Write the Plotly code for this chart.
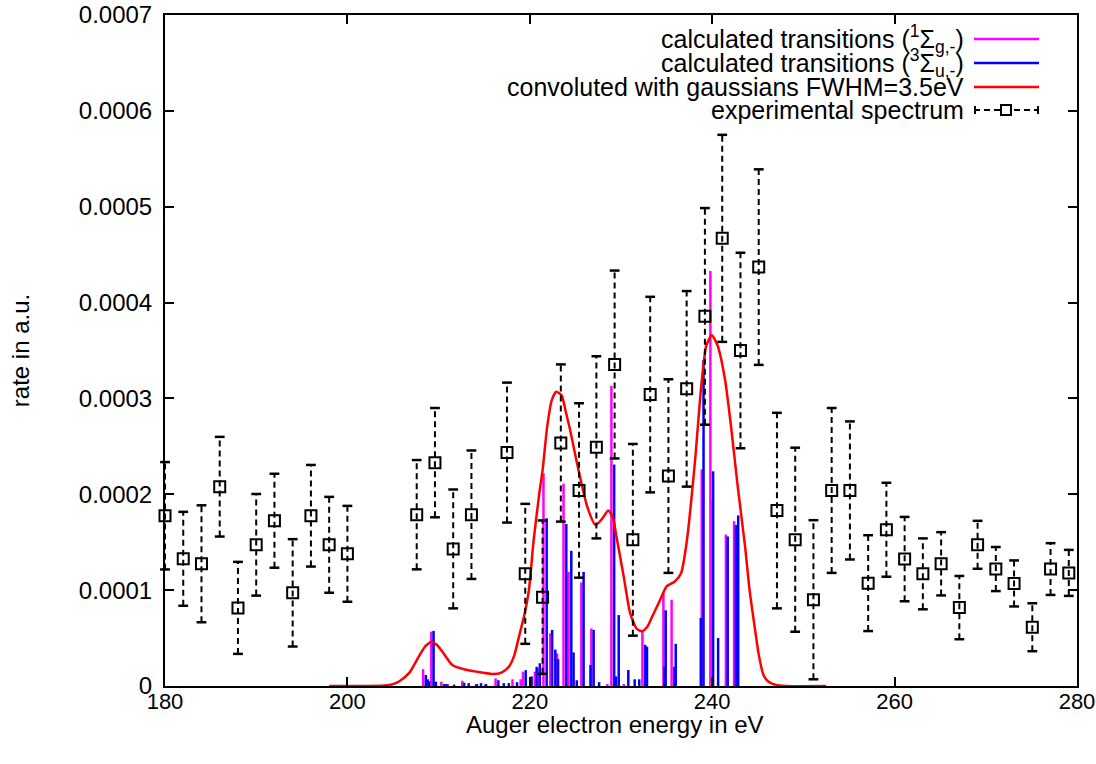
import plotly.graph_objects as go

# ---------------- data ----------------
# calculated transitions, 1Sigma_g (magenta): energy (eV), rate (1e-4 a.u.)
sg_energy = [208.3, 209.2, 210.3, 211.0, 212.6, 214.1, 215.1, 216.25, 218.1, 219.0, 219.25,
             220.55, 221.0, 221.5, 222.25, 223.0, 223.7, 224.25, 225.65, 226.75, 228.5,
             228.95, 230.3, 232.35, 234.65, 235.55, 238.85, 239.8, 240.05, 241.5, 242.4]
sg_rate = [0.175, 0.567, 0.045, 0.02, 0.055, 0.02, 0.015, 0.08, 0.07, 0.07, 0.15,
           0.15, 0.185, 2.22, 0.55, 0.34, 2.11, 1.19, 1.08, 0.60, 0.02,
           3.13, 0.02, 0.585, 0.97, 0.90, 2.26, 4.33, 1.94, 1.58, 1.72]

# calculated transitions, 3Sigma_u (blue)
su_energy = [208.6, 208.8, 208.95, 209.45, 209.7, 210.6, 210.85, 211.7, 212.8, 213.3,
             214.2, 214.65, 215.2, 216.55, 217.15, 217.7, 218.6, 219.55, 220.2, 220.75,
             221.1, 221.85, 222.45, 222.8, 223.1, 224.0, 224.55, 224.8, 225.15, 225.9,
             226.65, 227.0, 227.6, 229.25, 229.45, 229.75, 230.8, 231.5, 232.0, 232.65,
             232.85, 234.75, 234.9, 235.85, 236.0, 238.75, 239.05, 240.1, 240.65, 241.7,
             242.6, 242.85]
su_rate = [0.115, 0.07, 0.05, 0.575, 0.045, 0.02, 0.02, 0.015, 0.035, 0.03,
           0.02, 0.03, 0.02, 0.06, 0.03, 0.03, 0.04, 0.165, 0.10, 0.20,
           0.237, 1.75, 0.585, 0.38, 0.28, 1.69, 1.41, 0.35, 0.06, 1.19,
           0.22, 0.585, 0.04, 2.31, 0.10, 0.74, 0.167, 0.07, 0.07, 0.43,
           0.41, 0.20, 0.79, 0.20, 0.44, 0.71, 3.40, 2.24, 0.50, 1.56,
           1.68, 1.78]

# convoluted spectrum (red)
conv_energy = [198.0, 202.0, 204.0, 205.0, 205.7, 206.8, 207.9, 208.6, 209.2, 209.8, 210.4,
               211.5, 213.0, 214.1, 215.9, 216.9, 217.7, 218.3, 218.8, 219.4, 219.9,
               220.4, 221.0, 221.4, 221.9, 222.4, 222.9, 223.5, 223.9, 224.4, 225.3,
               226.3, 227.2, 227.9, 228.6, 229.1, 229.5, 230.3, 231.0, 231.7, 232.3,
               232.9, 233.4, 234.3, 235.0, 235.9, 236.6, 237.2, 238.1, 238.8, 239.35,
               239.95, 240.6, 241.4, 242.1, 242.8, 243.6, 244.1, 244.65, 245.1, 245.6,
               246.1, 247.0, 248.0, 252.5]
conv_rate = [0.0, 0.0, 0.005, 0.02, 0.05, 0.14, 0.32, 0.42, 0.46, 0.43, 0.36,
             0.22, 0.17, 0.15, 0.125, 0.14, 0.20, 0.32, 0.51, 0.74, 1.0,
             1.5, 1.98, 2.25, 2.7, 2.98, 3.07, 3.03, 2.88, 2.68, 2.27,
             1.87, 1.68, 1.74, 1.83, 1.76, 1.56, 1.14, 0.76, 0.60, 0.57,
             0.62, 0.72, 0.90, 1.04, 1.09, 1.18, 1.50, 2.33, 3.13, 3.55,
             3.66, 3.55, 3.20, 2.68, 2.08, 1.46, 1.0, 0.62, 0.33, 0.12,
             0.05, 0.01, 0.0, 0.0]

# experimental spectrum
exp_energy = [180, 182, 184, 186, 188, 190, 192, 194, 196, 198, 200,
               207.6, 209.6, 211.6, 213.6, 217.5, 219.5, 221.4, 223.4, 225.4, 227.3,
               229.3, 231.3, 233.2, 235.2, 237.2, 239.2, 241.1, 243.1, 245.1, 247.1,
               249.1, 251.1, 253.1, 255.1, 257.1, 259.1, 261.1, 263.1, 265.1, 267.1,
               269.1, 271.1, 273.1, 275.1, 277.1, 279.1]
exp_rate = [1.776, 1.327, 1.275, 2.079, 0.815, 1.473, 1.724, 0.972, 1.776, 1.473, 1.379,
            1.787, 2.33, 1.43, 1.787, 2.435, 1.17, 0.927, 2.535, 2.04, 2.49,
            3.354, 1.525, 3.04, 2.19, 3.10, 3.856, 4.67, 3.50, 4.37, 1.83,
            1.526, 0.90, 2.04, 2.04, 1.073, 1.63, 1.324, 1.17, 1.275, 0.818,
            1.473, 1.22, 1.07, 0.613, 1.22, 1.18]
exp_err = [0.56, 0.49, 0.61, 0.52, 0.48, 0.53, 0.49, 0.56, 0.53, 0.50, 0.50,
           0.57, 0.57, 0.62, 0.67, 0.73, 0.73, 0.80, 0.82, 0.91, 0.95,
           0.98, 1.00, 1.02, 1.01, 1.02, 1.13, 1.08, 1.02, 1.02, 1.02,
           0.96, 0.83, 0.86, 0.72, 0.50, 0.49, 0.44, 0.37, 0.33, 0.33,
           0.25, 0.23, 0.24, 0.25, 0.27, 0.24]

x_ticks = [180, 200, 220, 240, 260, 280]
y_tick_vals = [0, 0.0001, 0.0002, 0.0003, 0.0004, 0.0005, 0.0006, 0.0007]
y_tick_text = ["0", "0.0001", "0.0002", "0.0003", "0.0004", "0.0005", "0.0006", "0.0007"]

x_title = "Auger electron energy in eV"
y_title = "rate in a.u."
legend_labels = ["calculated transitions (<sup>1</sup>Σ<sub>g,-</sub>)",
                 "calculated transitions (<sup>3</sup>Σ<sub>u,-</sub>)",
                 "convoluted with gaussians FWHM=3.5eV",
                 "experimental spectrum"]

SCALE = 1e-4
FONT = "Liberation Sans, Arial, sans-serif"
MAGENTA, BLUE, RED = "#ff00ff", "#0000ff", "#ff0000"


def impulses(xs, ys):
    px, py = [], []
    for x, y in zip(xs, ys):
        px += [x, x, None]
        py += [0, y * SCALE, None]
    return px, py


fig = go.Figure()

mx, my = impulses(sg_energy, sg_rate)
fig.add_trace(go.Scatter(x=mx, y=my, mode="lines", line=dict(color=MAGENTA, width=2.5),
                         showlegend=False, hoverinfo="skip"))
bx, by = impulses(su_energy, su_rate)
fig.add_trace(go.Scatter(x=bx, y=by, mode="lines", line=dict(color=BLUE, width=2.5),
                         showlegend=False, hoverinfo="skip"))

fig.add_trace(go.Scatter(x=conv_energy, y=[v * SCALE for v in conv_rate], mode="lines",
                         line=dict(color=RED, width=2.5, shape="spline", smoothing=0.6),
                         showlegend=False))

# experimental error bars (dashed) + caps + squares
ex, ey, cx, cy = [], [], [], []
for x, v, e in zip(exp_energy, exp_rate, exp_err):
    lo, hi = (v - e) * SCALE, (v + e) * SCALE
    ex += [x, x, None]
    ey += [lo, hi, None]
    cx += [x, x]
    cy += [lo, hi]
fig.add_trace(go.Scatter(x=ex, y=ey, mode="lines", cliponaxis=False,
                         line=dict(color="black", width=2, dash="6px,4px"),
                         showlegend=False, hoverinfo="skip"))
fig.add_trace(go.Scatter(x=cx, y=cy, mode="markers", cliponaxis=False,
                         marker=dict(symbol="line-ew", size=7,
                                     line=dict(color="black", width=2.5)),
                         showlegend=False, hoverinfo="skip"))
fig.add_trace(go.Scatter(x=exp_energy, y=[v * SCALE for v in exp_rate], mode="markers",
                         cliponaxis=False,
                         marker=dict(symbol="square-open", size=11, color="black",
                                     line=dict(color="black", width=2)),
                         showlegend=False))

# ---------------- custom gnuplot-style key ----------------
L, R_, T, B = 165, 1077, 15, 686
W, H = R_ - L, B - T


def px_x(p):
    return (p - L) / W


def px_y(p):
    return (B - p) / H


rows = [39, 63, 87, 110]
colors = [MAGENTA, BLUE, RED, "black"]
shapes = []
annotations = []
for lab, row, col in zip(legend_labels, rows, colors):
    annotations.append(dict(x=px_x(966), y=px_y(row), xref="paper", yref="paper",
                            text=lab, showarrow=False, xanchor="right", yanchor="middle",
                            font=dict(family=FONT, size=25, color="black")))
    if col != "black":
        shapes.append(dict(type="line", xref="paper", yref="paper",
                           x0=px_x(974), x1=px_x(1039), y0=px_y(row), y1=px_y(row),
                           line=dict(color=col, width=2.5)))
    else:
        shapes.append(dict(type="line", xref="paper", yref="paper",
                           x0=px_x(974), x1=px_x(1039), y0=px_y(row), y1=px_y(row),
                           line=dict(color=col, width=2, dash="6px,4px")))
        for xe in (975, 1038):
            shapes.append(dict(type="line", xref="paper", yref="paper",
                               x0=px_x(xe), x1=px_x(xe), y0=px_y(row - 4), y1=px_y(row + 4),
                               line=dict(color=col, width=2)))
        shapes.append(dict(type="rect", xref="paper", yref="paper",
                           x0=px_x(1001), x1=px_x(1011), y0=px_y(row + 5), y1=px_y(row - 5),
                           line=dict(color=col, width=2), fillcolor="white"))

# x axis title placed just under the tick labels, as in the reference
annotations.append(dict(x=px_x(615), y=px_y(724), xref="paper", yref="paper",
                        text=x_title, showarrow=False, xanchor="center", yanchor="middle",
                        font=dict(family=FONT, size=24, color="black")))

fig.update_layout(
    width=1096, height=764,
    margin=dict(l=L, r=1096 - R_, t=T, b=764 - B, autoexpand=False),
    paper_bgcolor="white", plot_bgcolor="white",
    font=dict(family=FONT, size=23, color="black"),
    shapes=shapes, annotations=annotations,
    showlegend=False,
    xaxis=dict(range=[180, 280], tickvals=x_ticks, ticks="inside", ticklen=9,
               tickwidth=1.5, tickcolor="black", showline=True, linecolor="black",
               linewidth=2, mirror="ticks", showgrid=False, zeroline=False,
               automargin=False, ticklabelstandoff=-5, ticklabeloverflow="allow",
               tickfont=dict(size=22)),
    yaxis=dict(range=[0, 0.0007], tickvals=y_tick_vals, ticktext=y_tick_text,
               ticks="inside", ticklen=9, tickwidth=1.5, tickcolor="black",
               showline=True, linecolor="black", linewidth=2, mirror="ticks",
               showgrid=False, zeroline=False, ticklabelstandoff=6, automargin=False,
               ticklabeloverflow="allow",
               title=dict(text=y_title, standoff=42, font=dict(family=FONT, size=24)),
               tickfont=dict(size=24)),
)

fig.write_html("out.html")
